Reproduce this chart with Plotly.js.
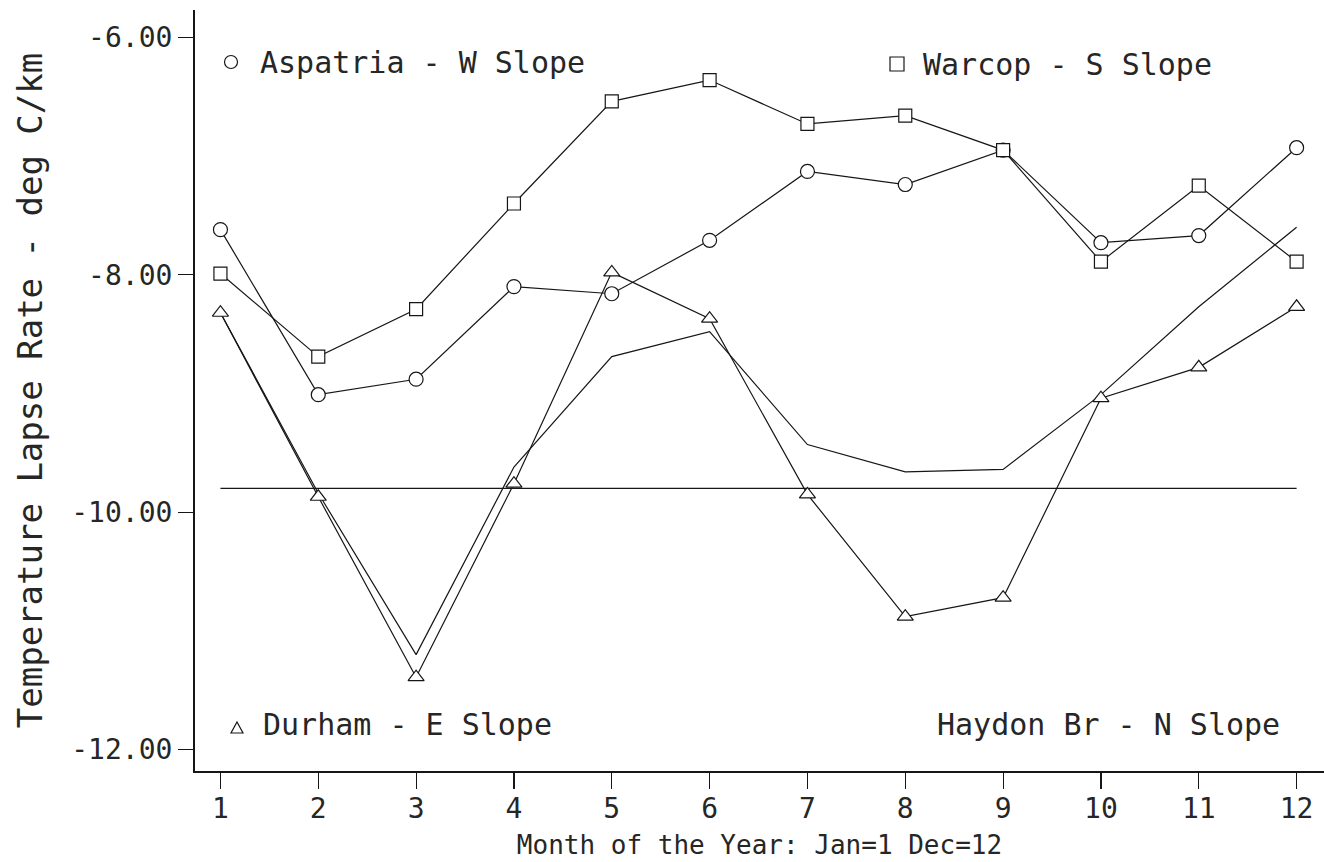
<!DOCTYPE html>
<html>
<head>
<meta charset="utf-8">
<script src="https://cdn.plot.ly/plotly-3.0.1.min.js"></script>
<style>
  html, body { margin: 0; padding: 0; background: #fff; }
  #chart { width: 1324px; height: 862px; }
</style>
</head>
<body>
<div id="chart"></div>
<script>
// Monthly mean temperature lapse rates (deg C/km) at four slope sites
const months = [1, 2, 3, 4, 5, 6, 7, 8, 9, 10, 11, 12];
const aspatria = [-7.62, -9.01, -8.88, -8.10, -8.16, -7.71, -7.13, -7.24, -6.95, -7.73, -7.67, -6.93];
const warcop   = [-7.99, -8.69, -8.29, -7.40, -6.54, -6.36, -6.73, -6.66, -6.95, -7.89, -7.25, -7.89];
const durham   = [-8.32, -9.87, -11.39, -9.76, -7.98, -8.37, -9.85, -10.88, -10.72, -9.04, -8.78, -8.27];
const haydon   = [-8.32, -9.84, -11.20, -9.62, -8.69, -8.48, -9.43, -9.66, -9.64, -9.01, -8.27, -7.60];
const dalr = -9.8;   // dry adiabatic lapse rate reference line
const yTicks = [-6, -8, -10, -12];
const yTickText = ['-6.00', '-8.00', '-10.00', '-12.00'];
const xAxisTitle = 'Month of the Year: Jan=1 Dec=12';
const yAxisTitle = 'Temperature Lapse Rate - deg C/km';
const siteNames = ['Aspatria - W Slope', 'Warcop - S Slope', 'Durham - E Slope', 'Haydon Br - N Slope'];

const FONT = 'DejaVu Sans Mono, Liberation Mono, monospace';
const INK = '#161616';
const TEXT = '#262626';
const lineStyle = { color: INK, width: 1.2 };

// page geometry
const W = 1324, H = 862;
const M = { l: 195, r: 0, t: 10, b: 91 };
const px = v => (v - M.l) / (W - M.l - M.r);          // page x -> paper x
const py = v => (H - M.b - v) / (H - M.t - M.b);      // page y -> paper y

function series(y, symbol, size) {
  const t = {
    x: months, y: y, type: 'scatter',
    mode: symbol ? 'lines+markers' : 'lines',
    line: lineStyle,
    cliponaxis: false,
    hoverinfo: 'skip'
  };
  if (symbol) {
    t.marker = { symbol: symbol, size: size, color: '#fff',
                 line: { color: INK, width: 1.2 } };
  }
  return t;
}

const traces = [
  { x: [months[0], months[months.length - 1]], y: [dalr, dalr], type: 'scatter',
    mode: 'lines', line: lineStyle, hoverinfo: 'skip' },
  series(haydon, null),
  series(durham, 'triangle-up', 14),
  series(aspatria, 'circle', 14),
  series(warcop, 'square', 13)
];

// key symbols beside the site labels
const keyLine = { color: INK, width: 1.2 };
const keyShape = (type, cx, cy, extra) => Object.assign({
  type: type, xref: 'paper', yref: 'paper',
  xsizemode: 'pixel', ysizemode: 'pixel',
  xanchor: px(cx), yanchor: py(cy),
  line: keyLine, fillcolor: 'rgba(0,0,0,0)'
}, extra);

const shapes = [
  keyShape('circle', 231, 62, { x0: -6.5, x1: 6.5, y0: -6.5, y1: 6.5 }),
  keyShape('rect', 897, 64, { x0: -7, x1: 7, y0: -7, y1: 7 }),
  keyShape('path', 237, 728, { path: 'M-6,-5L6,-5L0,6Z' })
];

const label = (x, y, anchor, text) => ({
  xref: 'paper', yref: 'paper', x: px(x), y: py(y), xanchor: anchor, yanchor: 'middle',
  showarrow: false, align: 'left', text: text,
  font: { family: FONT, size: 30, color: TEXT }
});

const layout = {
  width: W, height: H,
  margin: M,
  paper_bgcolor: '#fff', plot_bgcolor: '#fff',
  showlegend: false,
  font: { family: FONT, color: TEXT },
  xaxis: {
    range: [0.74, 12.28],
    tickvals: months, ticktext: months.map(String),
    ticks: 'outside', ticklen: 16, tickwidth: 1.2, tickcolor: INK,
    ticklabelstandoff: -5,
    showline: true, linecolor: INK, linewidth: 2,
    showgrid: false, zeroline: false,
    tickfont: { family: FONT, size: 28, color: TEXT },
    title: { text: xAxisTitle, font: { family: FONT, size: 26, color: TEXT }, standoff: 12 }
  },
  yaxis: {
    range: [-12.18, -5.77],
    tickvals: yTicks, ticktext: yTickText,
    ticks: 'outside', ticklen: 15, tickwidth: 1.2, tickcolor: INK,
    showline: true, linecolor: INK, linewidth: 2,
    showgrid: false, zeroline: false,
    tickfont: { family: FONT, size: 28, color: TEXT },
    title: { text: yAxisTitle, font: { family: FONT, size: 34, color: TEXT }, standoff: 18 }
  },
  shapes: shapes,
  annotations: [
    label(258, 62, 'left', siteNames[0]),
    label(921, 64, 'left', siteNames[1]),
    label(261, 724, 'left', siteNames[2]),
    label(1282, 724, 'right', siteNames[3])
  ]
};

Plotly.newPlot('chart', traces, layout, { staticPlot: true, displayModeBar: false });
</script>
</body>
</html>
